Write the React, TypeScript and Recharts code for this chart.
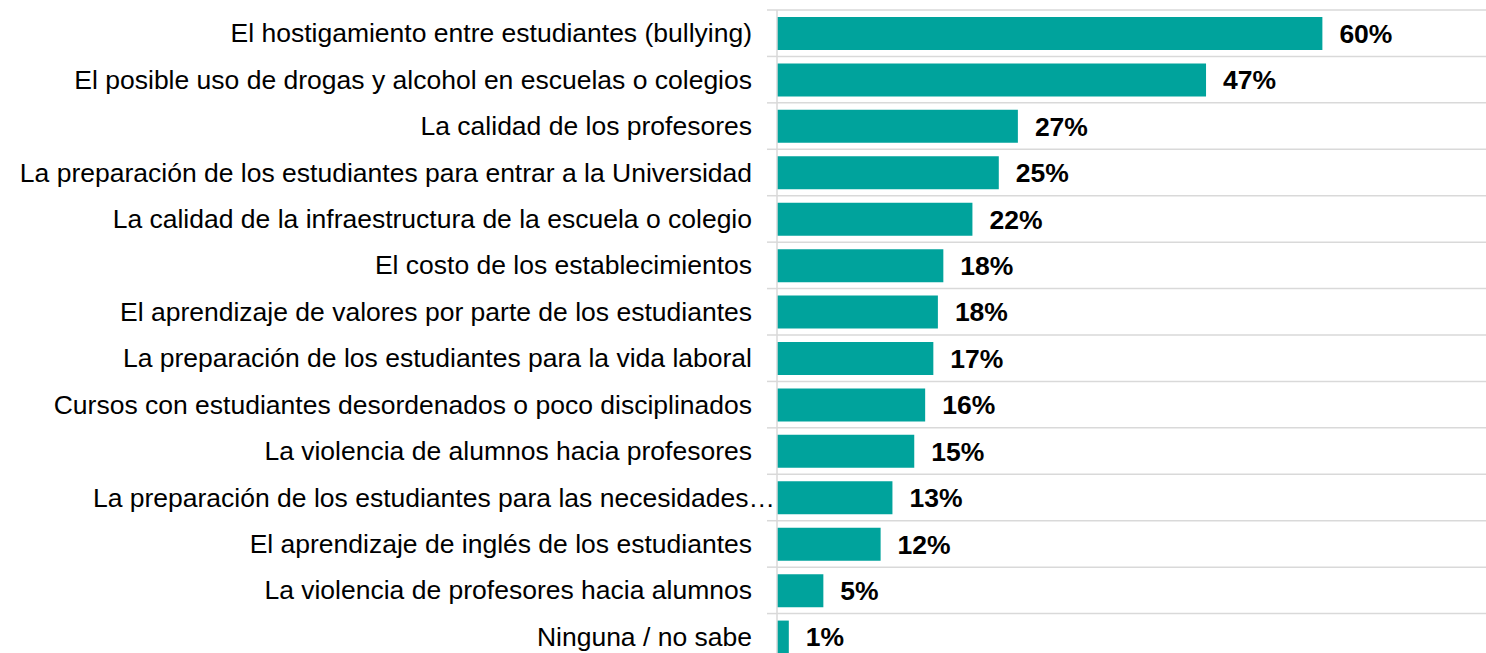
import React from "react";
import { BarChart, Bar, XAxis, YAxis, CartesianGrid, LabelList } from "recharts";

const categories = [
  "El hostigamiento entre estudiantes (bullying)",
  "El posible uso de drogas y alcohol en escuelas o colegios",
  "La calidad de los profesores",
  "La preparación de los estudiantes para entrar a la Universidad",
  "La calidad de la infraestructura de la escuela o colegio",
  "El costo de los establecimientos",
  "El aprendizaje de valores por parte de los estudiantes",
  "La preparación de los estudiantes para la vida laboral",
  "Cursos con estudiantes desordenados o poco disciplinados",
  "La violencia de alumnos hacia profesores",
  "La preparación de los estudiantes para las necesidades…",
  "El aprendizaje de inglés de los estudiantes",
  "La violencia de profesores hacia alumnos",
  "Ninguna / no sabe",
];

const values = [60, 47.2, 26.5, 24.4, 21.5, 18.3, 17.7, 17.2, 16.3, 15.1, 12.7, 11.4, 5.1, 1.3];
const valueLabels = ["60%", "47%", "27%", "25%", "22%", "18%", "18%", "17%", "16%", "15%", "13%", "12%", "5%", "1%"];

const W = 1486;
const H = 653;
const CHART_H = 660; // plot runs slightly past the bottom edge, as in the original
const AXIS_W = 777;
const TOP = 10;
const BAND = (CHART_H - TOP) / categories.length;
const GRID = "#D9D9D9";
const FONT = "'Liberation Sans', Arial, sans-serif";

const data = categories.map((name, i) => ({ name, value: values[i], label: valueLabels[i] }));

function CategoryTick(props: any) {
  const { y, payload } = props;
  const top = y - BAND / 2;
  // truncated label runs over the gap up to the axis
  const truncated = String(payload.value).endsWith("…");
  return (
    <g>
      <line x1={767} x2={AXIS_W} y1={top} y2={top} stroke={GRID} strokeWidth={1.5} />
      <text
        x={truncated ? 775 : 752}
        y={y}
        textAnchor="end"
        dominantBaseline="central"
        fontFamily={FONT}
        fontSize={26.5}
        fill="#000"
      >
        {payload.value}
      </text>
    </g>
  );
}

export default function App() {
  return (
    <div
      style={{
        position: "absolute",
        left: 0,
        top: 0,
        width: W,
        height: H,
        overflow: "hidden",
        background: "#fff",
      }}
    >
      <BarChart
        width={W}
        height={CHART_H}
        data={data}
        layout="vertical"
        margin={{ top: TOP, right: 0, bottom: 0, left: 0 }}
      >
        <CartesianGrid
          vertical={false}
          stroke={GRID}
          strokeWidth={1.5}
          horizontalCoordinatesGenerator={({ offset }: any) =>
            categories.map((_, i) => offset.top + i * BAND).concat(offset.top + offset.height)
          }
        />
        <XAxis type="number" domain={[0, 78]} hide />
        <YAxis
          type="category"
          dataKey="name"
          width={AXIS_W}
          tickLine={false}
          axisLine={{ stroke: GRID, strokeWidth: 1.5 }}
          tick={<CategoryTick />}
          interval={0}
        />
        <Bar dataKey="value" fill="#00A39C" barSize={33} isAnimationActive={false}>
          <LabelList
            dataKey="label"
            position="right"
            offset={17}
            fontFamily={FONT}
            fontSize={26.5}
            fontWeight="bold"
            fill="#000"
          />
        </Bar>
      </BarChart>
    </div>
  );
}
